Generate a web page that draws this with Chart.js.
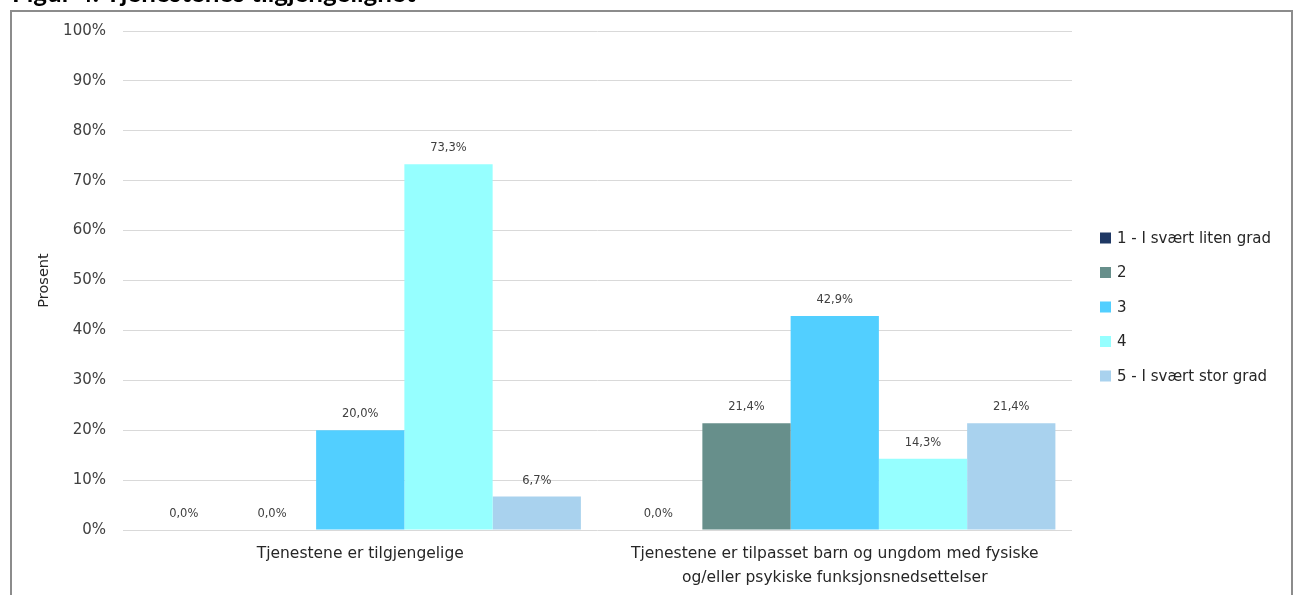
<!DOCTYPE html>
<html lang="no">
<head>
<meta charset="utf-8">
<title>Tjenestenes tilgjengelighet</title>
<script src="https://cdn.jsdelivr.net/npm/chart.js@4.4.1/dist/chart.umd.min.js"></script>
<style>
  html, body { margin: 0; padding: 0; background: #ffffff; }
  body { width: 1296px; height: 595px; position: relative; overflow: hidden; }
  #frame {
    position: absolute; left: 10px; top: 10px; width: 1283px; height: 620px;
    border: 2px solid #8c8c8c; box-sizing: border-box;
  }
  #wrap { position: absolute; left: 0; top: 0; width: 1296px; height: 595px; }
</style>
</head>
<body>
<div id="frame"></div>
<div id="wrap"><canvas id="chart" width="1296" height="595"></canvas></div>
<script>
// Kategorier (x-akse), to linjer for den lange etiketten
const categories = [
  'Tjenestene er tilgjengelige',
  ['Tjenestene er tilpasset barn og ungdom med fysiske', 'og/eller psykiske funksjonsnedsettelser']
];

// Svarfordeling i prosent per svaralternativ
const seriesNames = ['1 - I svært liten grad', '2', '3', '4', '5 - I svært stor grad'];
const grad1 = [0.0, 0.0];
const grad2 = [0.0, 21.4];
const grad3 = [20.0, 42.9];
const grad4 = [73.3, 14.3];
const grad5 = [6.7, 21.4];

// Verdiaksen
const yTicks = [0, 10, 20, 30, 40, 50, 60, 70, 80, 90, 100];

const seriesColors = ['#1f3864', '#678f8b', '#52cfff', '#96ffff', '#a9d2ee'];
const FONT = '"DejaVu Sans", sans-serif';

const pct = v => v.toFixed(1).replace('.', ',') + '%';

// Verdietiketter over hver søyle
const valueLabels = {
  id: 'valueLabels',
  afterDatasetsDraw(chart) {
    const ctx = chart.ctx;
    ctx.save();
    ctx.font = '11.5px ' + FONT;
    ctx.fillStyle = '#404040';
    ctx.textAlign = 'center';
    ctx.textBaseline = 'middle';
    chart.data.datasets.forEach((ds, i) => {
      const meta = chart.getDatasetMeta(i);
      meta.data.forEach((bar, j) => {
        ctx.fillText(pct(ds.data[j]), bar.x, bar.y - 16);
      });
    });
    ctx.restore();
  }
};

// Tegnforklaring til høyre
const sideLegend = {
  id: 'sideLegend',
  afterDraw(chart) {
    const ctx = chart.ctx;
    ctx.save();
    ctx.font = '15px ' + FONT;
    ctx.textBaseline = 'middle';
    ctx.textAlign = 'left';
    const x0 = chart.chartArea.right + 28;
    const y0 = 238, step = 34.5;
    chart.data.datasets.forEach((ds, i) => {
      const y = y0 + i * step;
      ctx.fillStyle = ds.backgroundColor;
      ctx.fillRect(x0, y - 5.5, 11, 11);
      ctx.fillStyle = '#262626';
      ctx.fillText(ds.label, x0 + 17, y + 1);
    });
    ctx.restore();
  }
};

// Figurtittel, delvis utenfor øvre kant
const figTitle = {
  id: 'figTitle',
  afterDraw(chart) {
    const ctx = chart.ctx;
    ctx.save();
    ctx.font = 'bold 26px Lato, sans-serif';
    ctx.fillStyle = '#000000';
    ctx.textBaseline = 'alphabetic';
    ctx.textAlign = 'left';
    ctx.fillText('Figur 4. Tjenestenes tilgjengelighet', 12, 2);
    ctx.restore();
  }
};

const datasets = [grad1, grad2, grad3, grad4, grad5].map((d, i) => ({
  label: seriesNames[i],
  data: d,
  backgroundColor: seriesColors[i],
  borderWidth: 0,
  categoryPercentage: 0.93,
  barPercentage: 1.0
}));

new Chart(document.getElementById('chart'), {
  type: 'bar',
  data: { labels: categories, datasets },
  options: {
    responsive: false,
    animation: false,
    layout: { padding: { top: 31, right: 224, left: 0, bottom: 0 } },
    plugins: {
      legend: { display: false },
      tooltip: { enabled: false },
      title: { display: false }
    },
    scales: {
      x: {
        grid: { display: false, drawTicks: false },
        border: { display: false },
        ticks: {
          color: '#262626',
          font: { family: FONT, size: 15.5, lineHeight: 1.55 },
          padding: 12,
          maxRotation: 0,
          autoSkip: false
        },
        afterFit(scale) { scale.height = 65; }
      },
      y: {
        min: 0,
        max: 100,
        afterBuildTicks(scale) { scale.ticks = yTicks.map(v => ({ value: v })); },
        grid: { color: '#d9d9d9', lineWidth: 1, drawTicks: false },
        border: { display: false },
        ticks: {
          color: '#404040',
          font: { family: FONT, size: 15 },
          padding: 17,
          callback: v => v + '%'
        },
        title: {
          display: true,
          text: 'Prosent',
          color: '#262626',
          font: { family: FONT, size: 14.5 },
          padding: { top: 36, bottom: 0 }
        },
        afterFit(scale) { scale.width = 123; }
      }
    }
  },
  plugins: [valueLabels, sideLegend, figTitle]
});
</script>
</body>
</html>
